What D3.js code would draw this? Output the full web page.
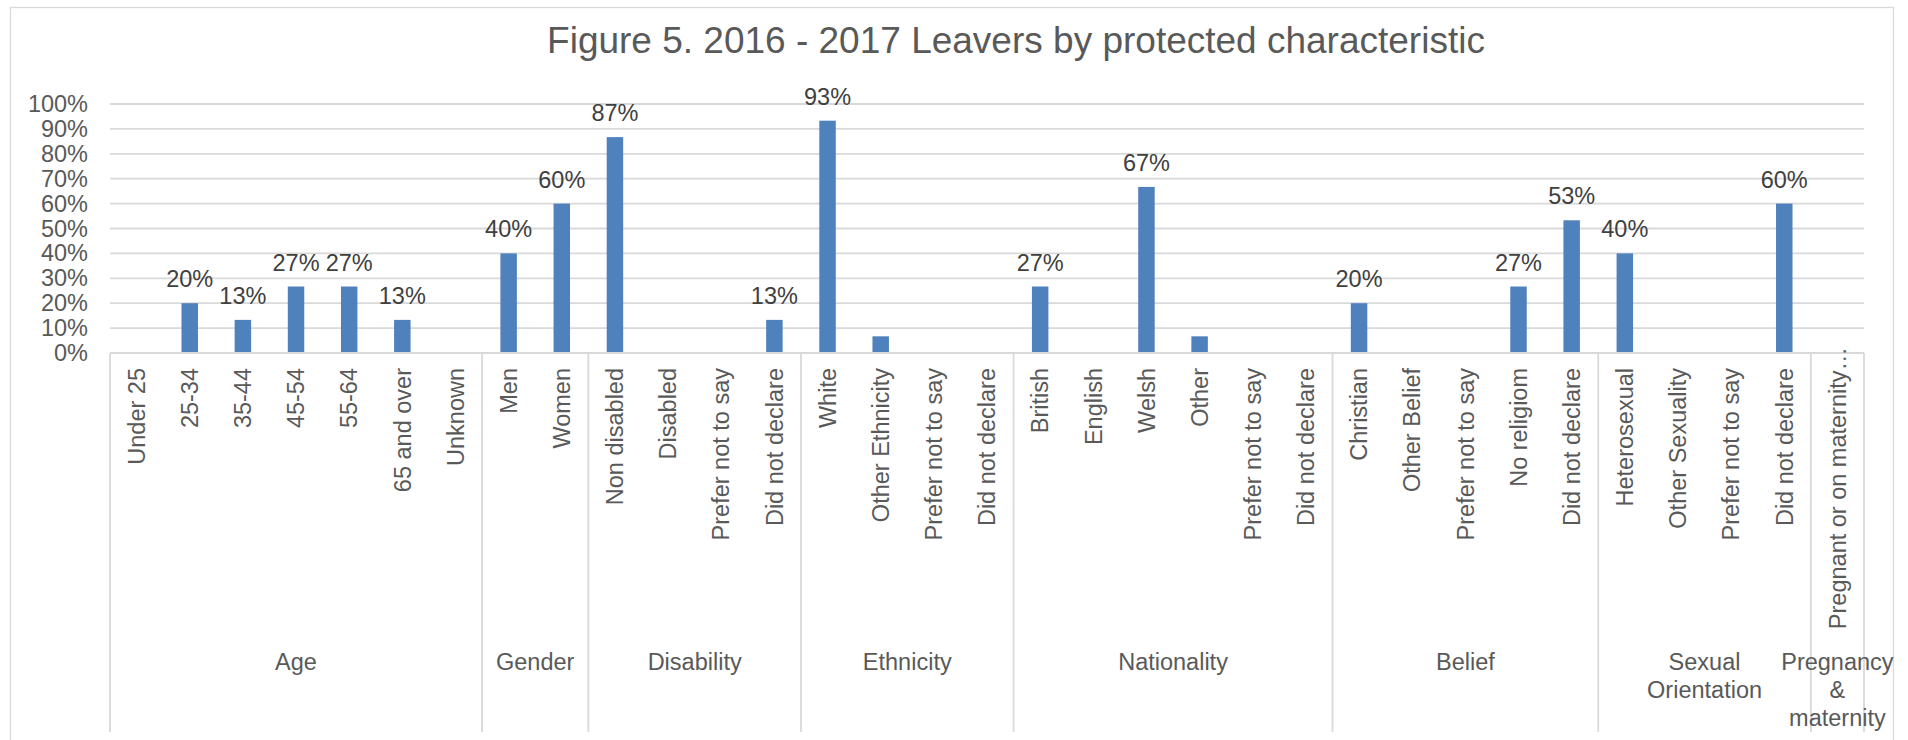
<!DOCTYPE html>
<html>
<head>
<meta charset="utf-8">
<script src="https://cdn.jsdelivr.net/npm/d3@7"></script>
<style>
  html, body { margin: 0; padding: 0; background: #fff; }
  svg { display: block; font-family: "Liberation Sans", Arial, sans-serif; }
</style>
</head>
<body>
<div id="chart"></div>
<script>
const title = "Figure 5. 2016 - 2017 Leavers by protected characteristic";

// Group labels (already split into lines as in the picture)
const groupLabels = [
  ["Age"], ["Gender"], ["Disability"], ["Ethnicity"], ["Nationality"],
  ["Belief"], ["Sexual", "Orientation"], ["Pregnancy", "&", "maternity"]
];
const groupSizes = [7, 2, 4, 4, 6, 5, 4, 1];

const categories = [
  "Under 25", "25-34", "35-44", "45-54", "55-64", "65 and over", "Unknown",
  "Men", "Women",
  "Non disabled", "Disabled", "Prefer not to say", "Did not declare",
  "White", "Other Ethnicity", "Prefer not to say", "Did not declare",
  "British", "English", "Welsh", "Other", "Prefer not to say", "Did not declare",
  "Christian", "Other Belief", "Prefer not to say", "No religiom", "Did not declare",
  "Heterosexual", "Other Sexuality", "Prefer not to say", "Did not declare",
  "Pregnant or on maternity\u2026"
];

const values = [
  0, 20, 13.3, 26.7, 26.7, 13.3, 0,
  40, 60,
  86.7, 0, 0, 13.3,
  93.3, 6.7, 0, 0,
  26.7, 0, 66.7, 6.7, 0, 0,
  20, 0, 0, 26.7, 53.3,
  40, 0, 0, 60,
  0
];

const dataLabels = [
  "", "20%", "13%", "27%", "27%", "13%", "",
  "40%", "60%",
  "87%", "", "", "13%",
  "93%", "", "", "",
  "27%", "", "67%", "", "", "",
  "20%", "", "", "27%", "53%",
  "40%", "", "", "60%",
  ""
];

const yTicks = [0, 10, 20, 30, 40, 50, 60, 70, 80, 90, 100];

const W = 1908, H = 740;
const plot = {left: 110, right: 1864, top: 104, bottom: 353};
const axisBottom = 732;

const svg = d3.select("#chart").append("svg")
  .attr("width", W)
  .attr("height", H);

// Chart border
svg.append("rect")
  .attr("x", 10.5).attr("y", 7.5)
  .attr("width", 1893 - 10).attr("height", 760)
  .attr("fill", "#fff")
  .attr("stroke", "#D9D9D9")
  .attr("stroke-width", 1.3);

// Title
svg.append("text")
  .attr("x", 1016).attr("y", 53)
  .attr("text-anchor", "middle")
  .attr("font-size", 37)
  .attr("fill", "#595959")
  .text(title);

const x = d3.scaleBand()
  .domain(d3.range(categories.length))
  .range([plot.left, plot.right]);

const y = d3.scaleLinear()
  .domain([0, 100])
  .range([plot.bottom, plot.top]);

// Gridlines
svg.append("g")
  .selectAll("line")
  .data(yTicks)
  .join("line")
    .attr("x1", plot.left).attr("x2", plot.right)
    .attr("y1", d => y(d)).attr("y2", d => y(d))
    .attr("stroke", "#D9D9D9")
    .attr("stroke-width", 1.8);

// Y axis labels
const yAxis = d3.axisLeft(y)
  .tickValues(yTicks)
  .tickFormat(d => d + "%")
  .tickSize(0)
  .tickPadding(22);

svg.append("g")
  .attr("transform", `translate(${plot.left},0)`)
  .call(yAxis)
  .call(g => g.select(".domain").remove())
  .call(g => g.selectAll("text")
    .attr("font-size", 23.5)
    .attr("font-family", "Liberation Sans, Arial, sans-serif")
    .attr("fill", "#595959"));

// Bars
const barW = x.bandwidth() * 0.31;
svg.append("g")
  .selectAll("rect")
  .data(values)
  .join("rect")
    .attr("x", (d, i) => x(i) + (x.bandwidth() - barW) / 2)
    .attr("y", d => y(d))
    .attr("width", barW)
    .attr("height", d => y(0) - y(d))
    .attr("fill", "#4F81BD");

// Data labels
svg.append("g")
  .selectAll("text")
  .data(dataLabels)
  .join("text")
    .attr("x", (d, i) => x(i) + x.bandwidth() / 2)
    .attr("y", (d, i) => y(values[i]) - 16)
    .attr("text-anchor", "middle")
    .attr("font-size", 23.5)
    .attr("fill", "#404040")
    .text(d => d);

// Category axis line
svg.append("line")
  .attr("x1", plot.left).attr("x2", plot.right)
  .attr("y1", y(0)).attr("y2", y(0))
  .attr("stroke", "#D9D9D9")
  .attr("stroke-width", 1.8);

// Group separators and group labels
let start = 0;
const bounds = [0];
groupSizes.forEach(n => { start += n; bounds.push(start); });

svg.append("g")
  .selectAll("line")
  .data(bounds)
  .join("line")
    .attr("x1", d => d < categories.length ? x(d) : plot.right)
    .attr("x2", d => d < categories.length ? x(d) : plot.right)
    .attr("y1", y(0)).attr("y2", axisBottom)
    .attr("stroke", "#D9D9D9")
    .attr("stroke-width", 1.8);

// Category labels (rotated)
svg.append("g")
  .selectAll("text")
  .data(categories)
  .join("text")
    .attr("transform", (d, i) => {
      const cx = x(i) + x.bandwidth() / 2;
      const top = d.endsWith("\u2026") ? 347 : 368;
      return `translate(${cx},${top}) rotate(-90)`;
    })
    .attr("text-anchor", "end")
    .attr("dy", "0.35em")
    .attr("font-size", 23.5)
    .attr("fill", "#595959")
    .text(d => d);

const groupG = svg.append("g");
groupLabels.forEach((lines, gi) => {
  const x0 = x(bounds[gi]);
  const x1 = bounds[gi + 1] < categories.length ? x(bounds[gi + 1]) : plot.right;
  const t = groupG.append("text")
    .attr("text-anchor", "middle")
    .attr("font-size", 23.5)
    .attr("fill", "#595959");
  lines.forEach((line, li) => {
    t.append("tspan")
      .attr("x", (x0 + x1) / 2)
      .attr("y", 670 + li * 28)
      .text(line);
  });
});
</script>
</body>
</html>
